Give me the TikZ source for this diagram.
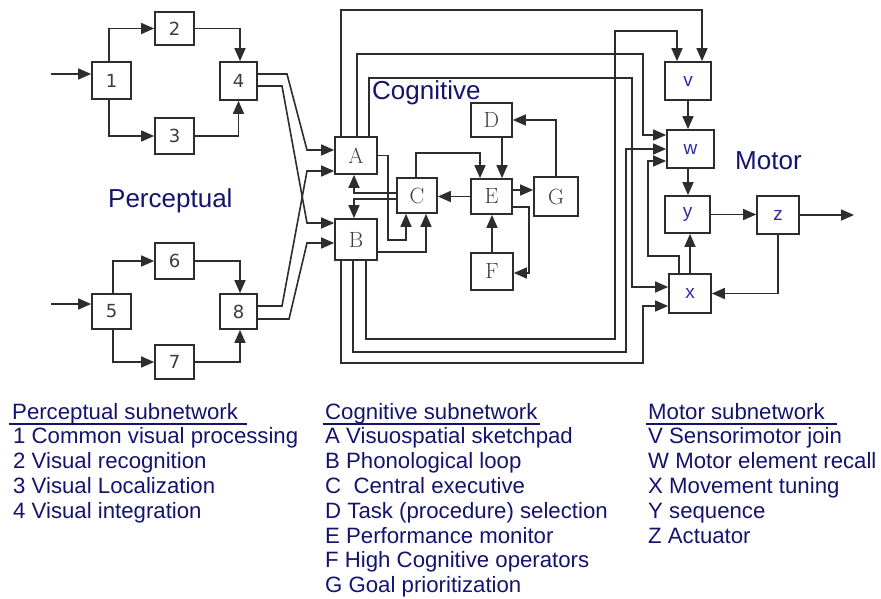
\documentclass[tikz,border=0pt]{standalone}
\usepackage{fontspec}
\newfontfamily\lsans{Liberation Sans}
\newfontfamily\dvs{DejaVu Sans}
\usetikzlibrary{arrows.meta}
\definecolor{wirecol}{RGB}{45,45,45}
\definecolor{digcol}{RGB}{60,60,60}
\definecolor{motcol}{RGB}{45,45,170}
\definecolor{legblue}{RGB}{20,20,110}
\tikzset{
  wire/.style={draw=wirecol, line width=1.6pt},
  arr/.style={wire, -{Triangle[length=13pt,width=11pt]}},
  boxbase/.style={draw=wirecol, line width=1.7pt, fill=white, inner sep=0pt},
  pbox/.style={boxbase, font=\dvs\fontsize{18}{20}\selectfont, text=digcol},
  cbox/.style={boxbase, font=\fontsize{22}{24}\selectfont, text=digcol},
  mbox/.style={boxbase, font=\lsans\fontsize{19}{21}\selectfont, text=motcol},
  lab/.style={font=\lsans\fontsize{26}{30}\selectfont, text=legblue, inner sep=0pt, anchor=base west},
  leg/.style={font=\lsans\fontsize{22.2}{26}\selectfont, text=legblue, inner sep=0pt, anchor=base west},
  uline/.style={draw=legblue, line width=2pt}
}
\begin{document}
\begin{tikzpicture}[x=1pt,y=-1pt]
\useasboundingbox (0,0) rectangle (881,599);
\fill[white] (0,0) rectangle (881,599);
% ---------- perceptual boxes
\node[pbox, minimum width=39pt, minimum height=37pt] (n1) at (111.5,80.5) {1};
\node[pbox, minimum width=39pt, minimum height=33pt] (n2) at (174.5,28.5) {2};
\node[pbox, minimum width=39pt, minimum height=36pt] (n3) at (174.5,136) {3};
\node[pbox, minimum width=37pt, minimum height=38pt] (n4) at (238.5,81) {4};
\node[pbox, minimum width=39pt, minimum height=35pt] (n5) at (111.5,311.5) {5};
\node[pbox, minimum width=39pt, minimum height=36pt] (n6) at (174.5,261) {6};
\node[pbox, minimum width=39pt, minimum height=34pt] (n7) at (174.5,362) {7};
\node[pbox, minimum width=37pt, minimum height=35pt] (n8) at (238.5,311.5) {8};
% ---------- cognitive boxes
\node[cbox, minimum width=42pt, minimum height=37pt] (A) at (356,155.5) {A};
\node[cbox, minimum width=42pt, minimum height=41pt] (B) at (356,239.5) {B};
\node[cbox, minimum width=40pt, minimum height=35pt] (C) at (417,195.5) {C};
\node[cbox, minimum width=41pt, minimum height=34pt] (D) at (491.5,120) {D};
\node[cbox, minimum width=41pt, minimum height=35pt] (E) at (491.5,196.5) {E};
\node[cbox, minimum width=42pt, minimum height=37pt] (F) at (492,271.5) {F};
\node[cbox, minimum width=44pt, minimum height=39pt] (G) at (556,196.5) {G};
% ---------- motor boxes
\node[mbox, minimum width=46pt, minimum height=38pt] (V) at (688,81) {v};
\node[mbox, minimum width=47pt, minimum height=38pt] (W) at (690.5,149) {w};
\node[mbox, minimum width=45pt, minimum height=37pt] (Y) at (687.5,214.5) {y};
\node[mbox, minimum width=42pt, minimum height=38pt] (Z) at (778,215) {z};
\node[mbox, minimum width=42pt, minimum height=39pt] (X) at (690,293.5) {x};
% ---------- perceptual wires
\coordinate (in1) at (51,74);
\coordinate (in5) at (51,304);
\draw[arr] (in1) -- (in1 -| n1.west);
\draw[arr] ([xshift=-2.5pt]n1.north) |- (n2);
\draw[arr] ([xshift=-2.5pt]n1.south) |- (n3);
\draw[arr] (n2) -| ([xshift=1.5pt]n4.north);
\draw[arr] (n3) -| (n4);
\draw[arr] (in5) -- (in5 -| n5.west);
\draw[arr] ([xshift=1.5pt]n5.north) |- (n6);
\draw[arr] ([xshift=1.5pt]n5.south) |- (n7);
\draw[arr] (n6) -| ([xshift=1.5pt]n8.north);
\draw[arr] (n7) -| ([xshift=1.5pt]n8.south);
% ---------- perceptual -> cognitive
\coordinate (q1) at (287,74);  \coordinate (q2) at (307,150);
\coordinate (q3) at (282,86);  \coordinate (q4) at (307,223);
\coordinate (q5) at (282,306); \coordinate (q6) at (307,171);
\coordinate (q7) at (289,319); \coordinate (q8) at (307,243);
\draw[arr] (q1 -| n4.east) -- (q1) -- (q2) -- (q2 -| A.west);
\draw[arr] (q3 -| n4.east) -- (q3) -- (q4) -- (q4 -| B.west);
\draw[arr] (q5 -| n8.east) -- (q5) -- (q6) -- (q6 -| A.west);
\draw[arr] (q7 -| n8.east) -- (q7) -- (q8) -- (q8 -| B.west);
% ---------- cognitive wires
\coordinate (k1) at (388,240);
\draw[arr] (A.east) -| (k1) -| ([xshift=-11pt]C.south);
\draw[arr] ([yshift=-12.5pt]B.east) -| ([xshift=9pt]C.south);
\draw[arr] ([yshift=2.5pt]C.west) -| ([xshift=-2pt]A.south);
\draw[arr] ([yshift=-3.5pt]C.west) -| ([xshift=-2pt]B.north);
\draw[arr] ([xshift=-1pt]C.north) -- ++(0,-24) -| ([xshift=-11.5pt]E.north);
\draw[arr] ([xshift=10.5pt]D.south) -- ([xshift=10.5pt]E.north);
\draw[arr] (E.west) -- (E.west -| C.east);
\draw[arr] ([yshift=6.5pt]E.east) -- ([yshift=6.5pt]E.east -| G.west);
\draw[arr] ([yshift=-10.5pt]E.east) -- ++(16,0) |- ([yshift=-1.5pt]F.east);
\draw[arr] (F.north) -- (F.north |- E.south);
\draw[arr] (G.north) |- (D.east);
% ---------- cognitive -> motor
\coordinate (t1) at (500,10);
\draw[arr] ([xshift=-15pt]A.north) |- (t1) -| ([xshift=14pt]V.north);
\coordinate (t2) at (643,54);
\draw[arr] ([xshift=1pt]A.north) |- (t2) |- ([yshift=14pt]W.west);
\coordinate (t3) at (632,78);
\draw[arr] ([xshift=13pt]A.north) |- (t3) |- ([yshift=6.5pt]X.west);
\coordinate (t4) at (643,363);
\draw[arr] ([xshift=-15pt]B.south) |- (t4) |- ([yshift=-12.5pt]X.west);
\coordinate (t5) at (626,352);
\draw[arr] ([xshift=-3pt]B.south) |- (t5) |- (W.west);
\coordinate (t6) at (615,339); \coordinate (t7) at (615,31);
\draw[arr] ([xshift=10pt]B.south) |- (t6) -- (t7) -| ([xshift=-11pt]V.north);
% ---------- motor wires
\draw[arr] (V.south) -- (V.south |- W.north);
\draw[arr] ([xshift=-2.5pt]W.south) -- ([xshift=-2.5pt]W.south |- Y.north);
\draw[arr] (X.north) -- (X.north |- Y.south);
\draw[arr] (Y.east) -- (Y.east -| Z.west);
\coordinate (out) at (854,215);
\draw[arr] (Z.east) -- (out);
\draw[arr] (Z.south) |- (X.east);
\coordinate (t8) at (648,256);
\draw[arr] ([xshift=-11pt]X.north) |- (t8) |- ([yshift=-12pt]W.west);
% ---------- group labels
\node[lab] (lp) at (108,207) {Perceptual};
\node[lab] (lc) at (372,100) {Cognitive};
\node[lab] (lm) at (735,170) {Motor};
% ---------- legend
\node[leg] (hp) at (12,419) {Perceptual subnetwork};
\draw[uline] (9,423.5) -- (247,423.5);
\foreach \t [count=\i] in {1 Common visual processing, 2 Visual recognition, 3 Visual Localization, 4 Visual integration}
  \node[leg] (p\i) at (13,{419+24.8*\i}) {\t};
\node[leg] (hc) at (325,419) {Cognitive subnetwork};
\draw[uline] (323,423.5) -- (540,423.5);
\foreach \t [count=\i] in {A Visuospatial sketchpad, B Phonological loop, {C\ \ Central executive}, D Task (procedure) selection, E Performance monitor, F High Cognitive operators, G Goal prioritization}
  \node[leg] (c\i) at (325,{419+24.8*\i}) {\t};
\node[leg] (hm) at (648,419) {Motor subnetwork};
\draw[uline] (646,423.5) -- (837,423.5);
\foreach \t [count=\i] in {V Sensorimotor join, W Motor element recall, X Movement tuning, Y sequence, Z Actuator}
  \node[leg] (m\i) at (648,{419+24.8*\i}) {\t};
\end{tikzpicture}
\end{document}
